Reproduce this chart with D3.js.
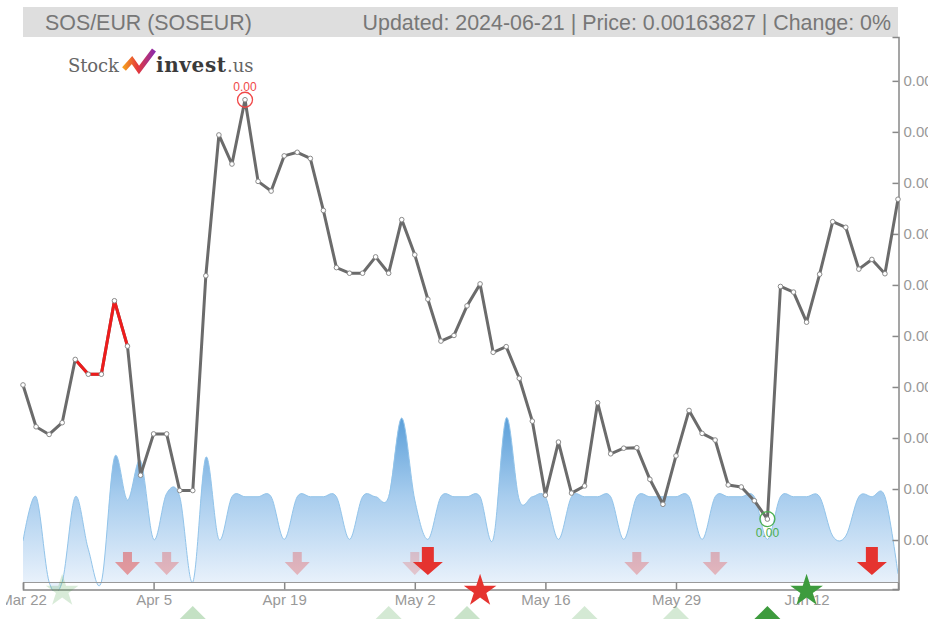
<!DOCTYPE html>
<html lang="en">
<head>
  <meta charset="UTF-8" />
  <title>SOS/EUR (SOSEUR)</title>
  <script src="https://cdn.jsdelivr.net/npm/d3@7"></script>
  <style>
    html, body { margin: 0; padding: 0; background: #fff; overflow: hidden; }
    #chart { position: absolute; left: 6px; top: 0; }
    text { font-family: "Liberation Sans", Arial, sans-serif; }
    text.logo { font-family: "DejaVu Serif", "Liberation Serif", serif; }
  </style>
</head>
<body>
  <svg id="chart"></svg>
  <script>
    // daily closes (trading days, Mar 22 -> Jun 21)
    const prices = [
      0.0016004, 0.0015922, 0.0015907, 0.0015930, 0.0016054, 0.0016025, 0.0016025, 0.0016169,
      0.0016080, 0.0015827, 0.0015908, 0.0015908, 0.0015797, 0.0015797, 0.0016218, 0.0016494,
      0.0016437, 0.0016563, 0.0016403, 0.0016384, 0.0016453, 0.0016460, 0.0016448, 0.0016346,
      0.0016234, 0.0016223, 0.0016223, 0.0016255, 0.0016223, 0.0016328, 0.0016259, 0.0016172,
      0.0016090, 0.0016101, 0.0016159, 0.0016202, 0.0016068, 0.0016079, 0.0016017, 0.0015933,
      0.0015788, 0.0015892, 0.0015792, 0.0015806, 0.0015969, 0.0015869, 0.0015880, 0.0015881,
      0.0015819, 0.0015770, 0.0015865, 0.0015954, 0.0015909, 0.0015896, 0.0015808, 0.0015804,
      0.0015777, 0.0015741, 0.0016197, 0.0016186, 0.0016127, 0.0016221, 0.0016324, 0.0016313,
      0.0016231, 0.0016250, 0.0016222, 0.0016368
    ];
    // relative volume
    const volume = [
      25, 52, 0, 0, 52, 20, 0, 76, 50, 74, 26, 54, 52, 0, 76, 26,
      52, 52, 52, 52, 26, 52, 52, 52, 52, 26, 52, 52, 52, 100, 50, 26,
      52, 52, 52, 52, 26, 100, 50, 52, 52, 26, 52, 52, 52, 52, 26, 52,
      52, 52, 52, 52, 26, 52, 52, 52, 52, 26, 52, 52, 52, 52, 28, 28,
      52, 52, 52, 5
    ];
    const redSegment = [4, 8];
    const tickIdx = [0, 10, 20, 30, 40, 50, 60];
    const tickLabels = ["Mar 22", "Apr 5", "Apr 19", "May 2", "May 16", "May 29", "Jun 12"];
    const yTicks = [0.00157, 0.00158, 0.00159, 0.00160, 0.00161, 0.00162, 0.00163, 0.00164, 0.00165, 0.00166];
    const yDomain = [0.0015604, 0.0016686];

    const sellIdx = [8, 11, 21, 30, 31, 47, 53, 65];
    const sellStrength = [0.45, 0.3, 0.3, 0.22, 1, 0.3, 0.3, 1];
    const buyIdx = [13, 28, 34, 43, 50, 57];
    const buyStrength = [0.3, 0.22, 0.28, 0.22, 0.22, 1];
    const starIdx = [3, 35, 60];
    const starType = ["buy", "sell", "buy"];
    const starStrength = [0.2, 1, 1];

    const titleLeft = "SOS/EUR (SOSEUR)";
    const titleRight = "Updated: 2024-06-21 | Price: 0.00163827 | Change: 0%";

    const W = 928, H = 619, off = 6;
    const plotL = 23, plotR = 898, plotT = 37, plotB = 589, volBase = 582;

    const svg = d3.select("#chart").attr("width", W - off).attr("height", H);
    const g = svg.append("g").attr("transform", "translate(" + (-off) + ",0)");

    const defs = svg.append("defs");
    const grad = defs.append("linearGradient")
      .attr("id", "volGrad").attr("gradientUnits", "userSpaceOnUse")
      .attr("x1", 0).attr("x2", 0).attr("y1", 418).attr("y2", volBase);
    grad.append("stop").attr("offset", "0%").attr("stop-color", "#5b9fd9");
    grad.append("stop").attr("offset", "48%").attr("stop-color", "#a8cdee");
    grad.append("stop").attr("offset", "100%").attr("stop-color", "#e8f1fb");

    const logoGrad = defs.append("linearGradient")
      .attr("id", "logoGrad").attr("x1", "0%").attr("x2", "100%").attr("y1", "0%").attr("y2", "0%");
    logoGrad.append("stop").attr("offset", "0%").attr("stop-color", "#f39c1f");
    logoGrad.append("stop").attr("offset", "45%").attr("stop-color", "#e53a3a");
    logoGrad.append("stop").attr("offset", "100%").attr("stop-color", "#8e2aa8");

    const x = d3.scalePoint().domain(d3.range(prices.length)).range([plotL, plotR]);
    const y = d3.scaleLinear().domain(yDomain).range([plotB, plotT]);
    const yv = d3.scaleLinear().domain([0, 100]).range([volBase, 418]);

    // title bar
    g.append("rect").attr("x", plotL).attr("y", 7).attr("width", plotR - plotL).attr("height", 30)
      .attr("fill", "#dedede");
    g.append("text").attr("x", 45).attr("y", 29.5).attr("font-size", 21.4).attr("fill", "#777")
      .text(titleLeft);
    g.append("text").attr("x", 891).attr("y", 29.5).attr("font-size", 21.4).attr("fill", "#777")
      .attr("text-anchor", "end").text(titleRight);

    // logo
    const logo = g.append("g");
    logo.append("text").attr("class", "logo").attr("x", 68).attr("y", 72)
      .attr("font-size", 18).attr("fill", "#666").attr("textLength", 51).text("Stock");
    logo.append("path").attr("d", "M124,69 L132,60 L139,70 L154,50")
      .attr("fill", "none").attr("stroke", "url(#logoGrad)").attr("stroke-width", 5)
      .attr("stroke-linejoin", "miter");
    logo.append("text").attr("class", "logo").attr("x", 156).attr("y", 72)
      .attr("font-size", 20).attr("font-weight", "bold").attr("fill", "#3a3a3a")
      .attr("textLength", 70).text("invest");
    logo.append("text").attr("class", "logo").attr("x", 227).attr("y", 72)
      .attr("font-size", 18).attr("fill", "#666").text(".us");

    // volume area
    const area = d3.area().x((d, i) => x(i)).y0(volBase).y1(d => yv(d)).curve(d3.curveCardinal);
    const vline = d3.line().x((d, i) => x(i)).y(d => yv(d)).curve(d3.curveCardinal);
    const clip = defs.append("clipPath").attr("id", "plotClip");
    clip.append("rect").attr("x", plotL).attr("y", plotT).attr("width", plotR - plotL).attr("height", plotB - plotT + 2);
    const vg = g.append("g").attr("clip-path", "url(#plotClip)");
    vg.append("path").datum(volume).attr("d", area).attr("fill", "url(#volGrad)");
    vg.append("path").datum(volume).attr("d", vline).attr("fill", "none")
      .attr("stroke", "#92c4ea").attr("stroke-width", 1);

    // axes
    g.append("line").attr("x1", plotL).attr("x2", plotR).attr("y1", volBase + 0.5).attr("y2", volBase + 0.5)
      .attr("stroke", "#9a9a9a");
    const xAxis = d3.axisBottom(x).tickValues(tickIdx).tickFormat((d, i) => tickLabels[i])
      .tickSize(-7).tickSizeOuter(-7).tickPadding(5);
    const xg = g.append("g").attr("transform", "translate(0," + (plotB + 0.5) + ")").call(xAxis);
    const yAxis = d3.axisRight(y).tickValues(yTicks).tickFormat(d3.format(".2f"))
      .tickSize(-6).tickSizeOuter(-6).tickPadding(5);
    const yg = g.append("g").attr("transform", "translate(" + (plotR + 0.5) + ",0)").call(yAxis);
    [xg, yg].forEach(a => {
      a.select(".domain").attr("stroke", "#888").attr("stroke-width", 1.5);
      a.selectAll(".tick line").attr("stroke", "#888").attr("stroke-width", 1.5);
      a.selectAll(".tick text").attr("fill", "#999").attr("font-size", 15);
    });

    // signals
    const red = "#e5332f", green = "#3d9b3d";
    function arrowPath(cx, strong) {
      const hw = strong ? 15 : 12.5, sw = strong ? 6 : 4.5, t = strong ? 547 : 552, m = 562, b = 575;
      return "M" + (cx - sw) + "," + t + "H" + (cx + sw) + "V" + m + "H" + (cx + hw) +
        "L" + cx + "," + b + "L" + (cx - hw) + "," + m + "H" + (cx - sw) + "Z";
    }
    g.append("g").selectAll("path").data(sellIdx).join("path")
      .attr("d", (d, i) => arrowPath(x(d), sellStrength[i] === 1))
      .attr("fill", red).attr("opacity", (d, i) => sellStrength[i]);

    g.append("g").selectAll("path").data(buyIdx).join("path")
      .attr("d", d => "M" + x(d) + ",606L" + (x(d) + 19) + ",625L" + (x(d) - 19) + ",625Z")
      .attr("fill", green).attr("opacity", (d, i) => buyStrength[i]);

    const star = d3.symbol().type(d3.symbolStar).size(330);
    g.append("g").selectAll("path").data(starIdx).join("path")
      .attr("d", star)
      .attr("transform", d => "translate(" + x(d) + ",591)")
      .attr("fill", (d, i) => starType[i] === "buy" ? green : red)
      .attr("opacity", (d, i) => starStrength[i]);

    // price line
    const line = d3.line().x((d, i) => x(i)).y(d => y(d));
    g.append("path").datum(prices).attr("d", line).attr("fill", "none")
      .attr("stroke", "#6b6b6b").attr("stroke-width", 3).attr("stroke-linejoin", "round");
    const seg = prices.slice(redSegment[0], redSegment[1] + 1);
    g.append("path").datum(seg)
      .attr("d", d3.line().x((d, i) => x(i + redSegment[0])).y(d => y(d)))
      .attr("fill", "none").attr("stroke", "#ee1c1c").attr("stroke-width", 3).attr("stroke-linejoin", "round");
    g.append("g").selectAll("circle").data(prices).join("circle")
      .attr("cx", (d, i) => x(i)).attr("cy", d => y(d)).attr("r", 2.3)
      .attr("fill", "#fff").attr("stroke", "#8a8a8a").attr("stroke-width", 1);

    // high / low markers
    const hi = d3.maxIndex(prices), lo = d3.minIndex(prices);
    g.append("circle").attr("cx", x(hi)).attr("cy", y(prices[hi])).attr("r", 7.5)
      .attr("fill", "none").attr("stroke", "#f04848").attr("stroke-width", 1.3);
    g.append("text").attr("x", x(hi)).attr("y", y(prices[hi]) - 9).attr("text-anchor", "middle")
      .attr("font-size", 12).attr("fill", "#f04848").text(d3.format(".2f")(prices[hi]));
    g.append("circle").attr("cx", x(lo)).attr("cy", y(prices[lo])).attr("r", 7.5)
      .attr("fill", "none").attr("stroke", "#4caf50").attr("stroke-width", 1.3);
    g.append("text").attr("x", x(lo)).attr("y", y(prices[lo]) + 18).attr("text-anchor", "middle")
      .attr("font-size", 12).attr("fill", "#4caf50").text(d3.format(".2f")(prices[lo]));
  </script>
</body>
</html>
